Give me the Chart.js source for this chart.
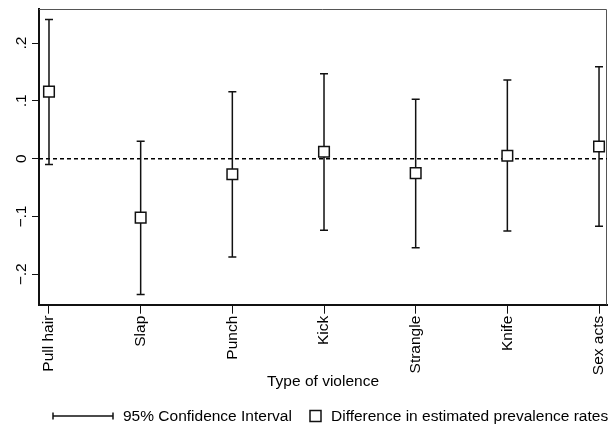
<!DOCTYPE html>
<html>
<head>
<meta charset="utf-8">
<script src="https://cdn.jsdelivr.net/npm/chart.js@4/dist/chart.umd.min.js"></script>
<style>
  html, body { margin: 0; padding: 0; background: #fff; }
  #wrap { width: 616px; height: 426px; }
</style>
</head>
<body>
<div id="wrap"><canvas id="c" width="616" height="426"></canvas></div>
<script>
// Violence types and the estimated difference in prevalence with its 95% CI
const categories = ['Pull hair', 'Slap', 'Punch', 'Kick', 'Strangle', 'Knife', 'Sex acts'];
const estimate   = [0.116, -0.102, -0.027, 0.012, -0.025, 0.005, 0.021];
const ciLower    = [-0.010, -0.235, -0.170, -0.124, -0.154, -0.125, -0.117];
const ciUpper    = [0.241, 0.030, 0.116, 0.147, 0.103, 0.136, 0.159];
const yTickValues = [-0.2, -0.1, 0, 0.1, 0.2];
const yTickLabels = ['\u2212.2', '\u2212.1', '0', '.1', '.2'];
const xAxisTitle = 'Type of violence';
const legendLabels = ['95% Confidence Interval', 'Difference in estimated prevalence rates'];

const FONT = "'Liberation Sans', Arial, sans-serif";
const FS = 15.5;

// Frame, zero reference line and confidence-interval whiskers
const intervalPlugin = {
  id: 'intervals',
  beforeDatasetsDraw(chart) {
    const { ctx, chartArea: a, scales: { x, y } } = chart;
    ctx.save();
    // thin top/right frame
    ctx.strokeStyle = '#555';
    ctx.lineWidth = 1;
    ctx.beginPath();
    ctx.moveTo(a.left, a.top + 0.5);
    ctx.lineTo(a.right - 0.5, a.top + 0.5);
    ctx.lineTo(a.right - 0.5, a.bottom);
    ctx.stroke();
    // dashed zero line
    const y0 = y.getPixelForValue(0);
    ctx.strokeStyle = '#000';
    ctx.lineWidth = 1.4;
    ctx.setLineDash([4, 3]);
    ctx.beginPath();
    ctx.moveTo(a.left, y0);
    ctx.lineTo(a.right, y0);
    ctx.stroke();
    ctx.setLineDash([]);
    // whiskers
    ctx.strokeStyle = '#111';
    ctx.lineWidth = 1.5;
    categories.forEach((_, i) => {
      const px = x.getPixelForValue(i);
      const lo = y.getPixelForValue(ciLower[i]);
      const hi = y.getPixelForValue(ciUpper[i]);
      ctx.beginPath();
      ctx.moveTo(px, lo); ctx.lineTo(px, hi);
      ctx.moveTo(px - 4, lo); ctx.lineTo(px + 4, lo);
      ctx.moveTo(px - 4, hi); ctx.lineTo(px + 4, hi);
      ctx.stroke();
    });
    ctx.restore();
  },
  afterDraw(chart) {
    const { ctx, scales: { y } } = chart;
    ctx.save();
    ctx.fillStyle = '#000';
    ctx.font = FS + 'px ' + FONT;
    // rotated y tick labels
    yTickValues.forEach((v, i) => {
      const py = y.getPixelForValue(v);
      ctx.save();
      ctx.translate(21.5, py);
      ctx.rotate(-Math.PI / 2);
      ctx.textAlign = 'center';
      ctx.textBaseline = 'middle';
      ctx.fillText(yTickLabels[i], 0, 0);
      ctx.restore();
    });
    // legend
    const ly = 416;
    ctx.strokeStyle = '#111';
    ctx.lineWidth = 1.5;
    ctx.beginPath();
    ctx.moveTo(53, ly); ctx.lineTo(113, ly);
    ctx.moveTo(53, ly - 3.5); ctx.lineTo(53, ly + 3.5);
    ctx.moveTo(113, ly - 3.5); ctx.lineTo(113, ly + 3.5);
    ctx.stroke();
    ctx.textAlign = 'left';
    ctx.textBaseline = 'middle';
    ctx.fillText(legendLabels[0], 123, ly + 1);
    ctx.fillStyle = '#fff';
    ctx.fillRect(310, ly - 5.5, 11, 11);
    ctx.strokeRect(310, ly - 5.5, 11, 11);
    ctx.fillStyle = '#000';
    ctx.fillText(legendLabels[1], 331, ly + 1);
    ctx.restore();
  }
};

new Chart(document.getElementById('c'), {
  type: 'scatter',
  data: {
    datasets: [{
      data: estimate.map((v, i) => ({ x: i, y: v })),
      pointStyle: 'rect',
      pointRadius: 7.5,
      pointHoverRadius: 7.5,
      backgroundColor: '#fff',
      borderColor: '#111',
      borderWidth: 1.5,
      pointBorderWidth: 1.5
    }]
  },
  options: {
    responsive: false,
    animation: false,
    devicePixelRatio: 1,
    layout: { padding: { top: 7, right: 7, left: 0, bottom: 0 } },
    plugins: { legend: { display: false }, tooltip: { enabled: false } },
    scales: {
      x: {
        type: 'linear',
        min: -0.109,
        max: 6.087,
        afterBuildTicks: (axis) => { axis.ticks = categories.map((_, i) => ({ value: i })); },
        afterFit: (axis) => { axis.height = 121.3; axis.paddingLeft = 0; axis.paddingRight = 0; },
        grid: { drawOnChartArea: false, drawTicks: true, tickLength: 9, color: '#111', lineWidth: 1 },
        border: { display: true, color: '#111', width: 2 },
        ticks: {
          autoSkip: false,
          minRotation: 90,
          maxRotation: 90,
          padding: 2,
          color: '#000',
          font: { family: FONT, size: FS },
          callback: (v) => categories[v]
        },
        title: {
          display: true,
          text: xAxisTitle,
          color: '#000',
          font: { family: FONT, size: FS },
          padding: { top: 0, bottom: 35 }
        }
      },
      y: {
        min: -0.2526,
        max: 0.259,
        afterBuildTicks: (axis) => { axis.ticks = yTickValues.map(v => ({ value: v })); },
        afterFit: (axis) => { axis.width = 39; axis.paddingTop = 0; axis.paddingBottom = 0; },
        grid: { drawOnChartArea: false, drawTicks: true, tickLength: 7, color: '#111', lineWidth: 1 },
        border: { display: true, color: '#111', width: 2 },
        ticks: { display: false }
      }
    }
  },
  plugins: [intervalPlugin]
});
</script>
</body>
</html>
